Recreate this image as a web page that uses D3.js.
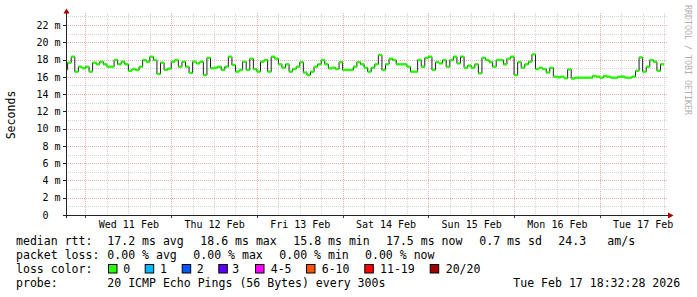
<!DOCTYPE html>
<html><head><meta charset="utf-8">
<script src="https://cdn.jsdelivr.net/npm/d3@7/dist/d3.min.js"></script>
<style>
body{margin:0;background:#fff}
svg{display:block}
text{font-family:"DejaVu Sans Mono",monospace;white-space:pre}
</style></head><body>
<svg id="c" width="697" height="297"></svg>
<script>
// ---------- data ----------
const startTime = "2026-02-10T18:32:28Z";
const endTime   = "2026-02-17T18:32:28Z";
const firstStep = "2026-02-10T18:00:00Z";   // hourly consolidated steps
const medianDay1 = [16.8,
  17.64,18.33,16.6,17.17,17.0,17.17,16.6,17.64,17.45,17.75,17.45,17.17,17.17,17.95,17.45,17.75,17.45,16.7,16.9,16.8,17.17,17.95,17.75,18.33,
  17.95,16.33,17.64,16.8,16.95,17.75,17.95,17.17,17.75,17.17,16.45,17.75,17.56,17.75,16.2,18.2,17.0,17.05,17.17,16.8,17.17,18.33,17.37,16.6];
const medianDay3 = [16.8,17.75,16.8,18.1,16.9,16.6,17.75,17.95,16.6,18.33,18.1,17.45,17.05,17.45,16.6,16.9,17.17,17.7,16.5,16.2,16.6,17.17,17.45,17.95,
  17.45,16.98,17.05,16.9,17.7,16.8,16.8,16.8,17.17,17.7,17.45,17.05,16.6,17.05,17.45,18.53,16.8,17.45,18.1,17.95,17.45,17.45,17.45,17.17,16.6,16.6,
  17.95,17.17,18.2,18.33,16.8,17.7,17.56,17.95,17.17,17.95,18.33,17.56,18.33,17.05,17.3];
const medianDay6 = [17.05,17.45,16.41,18.2,17.95,17.7,17.17,17.95,17.95,17.45,18.1,18.33,16.2,17.7,17.05,17.45,17.75,18.6,16.9,17.05,16.9,16.5,17.05,
  16.02,15.95,16.02,15.83,16.86,15.8,15.9,15.9,15.9,15.9,15.9,16.1,16.02,15.9,16.1,16.02,15.9,15.9,16.02,16.02,15.9,15.9,16.02,
  16.7,18.25,16.6,17.17,17.95,17.75,16.7,17.45];
const medianMs = medianDay1.concat(medianDay3, medianDay6);
const yTicksMs = [0,2,4,6,8,10,12,14,16,18,20,22];
const yMaxMs = 23.16;
const dayLabelNoons = ["2026-02-11T12:00:00Z","2026-02-12T12:00:00Z","2026-02-13T12:00:00Z","2026-02-14T12:00:00Z",
  "2026-02-15T12:00:00Z","2026-02-16T12:00:00Z","2026-02-17T12:00:00Z"];
const yTitle = "Seconds";
const watermark = "RRDTOOL / TOBI OETIKER";
const rttLabels = ["median rtt:","17.2 ms avg","18.6 ms max","15.8 ms min","17.5 ms now","0.7 ms sd","24.3","am/s"];
const lossLabels = ["packet loss:","0.00 % avg","0.00 % max","0.00 % min","0.00 % now"];
const lossColorTitle = "loss color:";
const lossCats = ["0","1","2","3","4-5","6-10","11-19","20/20"];
const lossColors = ["#26ff00","#00b8ff","#0059ff","#5e00ff","#ff00ff","#ff5500","#ff0000","#a10000"];
const probeLabels = ["probe:","20 ICMP Echo Pings (56 Bytes) every 300s","Tue Feb 17 18:32:28 2026"];

// ---------- layout ----------
const svg = d3.select("#c");
const X0 = 66, X1 = 666, Y0 = 215, Y1 = 15;
const x = d3.scaleUtc().domain([new Date(startTime), new Date(endTime)]).range([X0, X1]);
const y = d3.scaleLinear().domain([0, yMaxMs]).range([Y0, Y1]);

// grid
const grid = svg.append("g");
const hours = d3.utcHour.every(6).range(new Date(startTime), new Date(endTime));
grid.selectAll("line.vx").data(hours).join("line")
  .attr("x1", d => Math.round(x(d)) + 0.5).attr("x2", d => Math.round(x(d)) + 0.5)
  .attr("y1", 13).attr("y2", Y0)
  .attr("stroke", d => d.getUTCHours() === 0 ? "#eab0b0" : "#d4d4d4")
  .attr("stroke-dasharray", "1,1");
const yMinor = d3.range(1, Math.floor(yMaxMs) + 1);
grid.selectAll("line.hy").data(yMinor).join("line")
  .attr("x1", X0).attr("x2", X1 + 2)
  .attr("y1", d => Math.round(y(d)) + 0.5).attr("y2", d => Math.round(y(d)) + 0.5)
  .attr("stroke", d => d % 2 === 0 ? "#eab0b0" : "#d4d4d4")
  .attr("stroke-dasharray", "1,1");

// data
svg.append("defs").append("clipPath").attr("id", "pc").append("rect")
  .attr("x", X0 + 1).attr("y", 0).attr("width", X1 - X0 + 1).attr("height", Y0);
const t0 = new Date(firstStep);
const pts = medianMs.map((v, i) => ({t: d3.utcHour.offset(t0, i), t2: d3.utcHour.offset(t0, i + 1), v}));
const dg = svg.append("g").attr("clip-path", "url(#pc)");
const stepPts = pts.map(p => [x(p.t), y(p.v)]).concat([[x(pts[pts.length-1].t2), y(pts[pts.length-1].v)]]);
dg.append("path").attr("d", d3.line().curve(d3.curveStepAfter)(stepPts))
  .attr("fill", "none").attr("stroke", "#202020").attr("stroke-width", 1);
dg.selectAll("line.m").data(pts).join("line")
  .attr("x1", d => x(d.t)).attr("x2", d => x(d.t2))
  .attr("y1", d => y(d.v)).attr("y2", d => y(d.v))
  .attr("stroke", lossColors[0]).attr("stroke-width", 2.4);

// axes
const yAx = svg.append("g").attr("transform", `translate(${X0},0)`)
  .call(d3.axisLeft(y).tickValues(yTicksMs).tickSize(0).tickPadding(5.5)
    .tickFormat(v => v === 0 ? "0  " : v + " m"));
yAx.select(".domain").remove();
yAx.selectAll("text").attr("font-size", "10px").attr("fill", "#000").attr("font-family", "DejaVu Sans Mono");
svg.append("g").selectAll("line").data(yTicksMs).join("line")
  .attr("x1", X0 - 3).attr("x2", X0).attr("y1", d => Math.round(y(d)) + 0.5).attr("y2", d => Math.round(y(d)) + 0.5)
  .attr("stroke", "#222");

const xAx = svg.append("g").attr("transform", `translate(0,${Y0})`)
  .call(d3.axisBottom(x).tickValues(dayLabelNoons.map(s => new Date(s))).tickSize(0).tickPadding(6)
    .tickFormat(d3.utcFormat("%a %d %b")));
xAx.select(".domain").remove();
xAx.selectAll("text").attr("font-size", "10px").attr("fill", "#000").attr("font-family", "DejaVu Sans Mono");
const mids = hours.filter(d => d.getUTCHours() === 0);
svg.append("g").selectAll("line").data(mids).join("line")
  .attr("x1", d => Math.round(x(d)) + 0.5).attr("x2", d => Math.round(x(d)) + 0.5)
  .attr("y1", Y0).attr("y2", Y0 + 3).attr("stroke", "#444");

svg.append("line").attr("x1", X0 + 0.5).attr("x2", X0 + 0.5).attr("y1", 12).attr("y2", Y0 + 3).attr("stroke", "#222");
svg.append("line").attr("x1", X0 - 3).attr("x2", 669).attr("y1", Y0 + 0.5).attr("y2", Y0 + 0.5).attr("stroke", "#222");
svg.append("path").attr("d", `M${X0+0.5},8.5 L${X0-2.5},13.5 L${X0+3.5},13.5 Z`).attr("fill", "#a00000");
svg.append("path").attr("d", `M673.5,${Y0+0.5} L668,${Y0-2.5} L668,${Y0+3.5} Z`).attr("fill", "#a00000");

// titles
svg.append("text").attr("transform", "translate(11,115) rotate(-90)")
  .attr("text-anchor", "middle").attr("dominant-baseline", "central")
  .attr("font-size", "11.55px").attr("fill", "#000").text(yTitle);
svg.append("text").attr("transform", "translate(688,60) rotate(90)")
  .attr("text-anchor", "middle").attr("dominant-baseline", "central")
  .attr("font-size", "8.3px").attr("fill", "#b0b0b0").text(watermark);

// legend
const FS = "11.55px";
const lg = svg.append("g").attr("font-size", FS).attr("fill", "#000");
const rttX = [16,107.3,200.3,293.3,386,479.3,558.3,607.3];
lg.selectAll("text.r").data(rttLabels).join("text").attr("x", (d,i) => rttX[i]).attr("y", 245.3).text(d => d);
const lossX = [16,107.3,193.3,279.3,365];
lg.selectAll("text.l").data(lossLabels).join("text").attr("x", (d,i) => lossX[i]).attr("y", 259.1).text(d => d);
lg.append("text").attr("x", 16).attr("y", 273).text(lossColorTitle);
const boxX = [108.5,145.2,182.2,218.8,255.5,306.5,364.8,430.2];
const boxTextX = [123.3,160,196.7,232.3,270.7,321.7,380,445.7];
lg.selectAll("rect.b").data(lossCats).join("rect")
  .attr("x", (d,i) => boxX[i]).attr("y", 264.5).attr("width", 8.5).attr("height", 8.5)
  .attr("fill", (d,i) => lossColors[i]).attr("stroke", "#000").attr("stroke-width", 1);
lg.selectAll("text.c").data(lossCats).join("text").attr("x", (d,i) => boxTextX[i]).attr("y", 273).text(d => d);
const probeX = [16,107.3,513.3];
lg.selectAll("text.p").data(probeLabels).join("text").attr("x", (d,i) => probeX[i]).attr("y", 286.6).text(d => d);
</script>
</body></html>
